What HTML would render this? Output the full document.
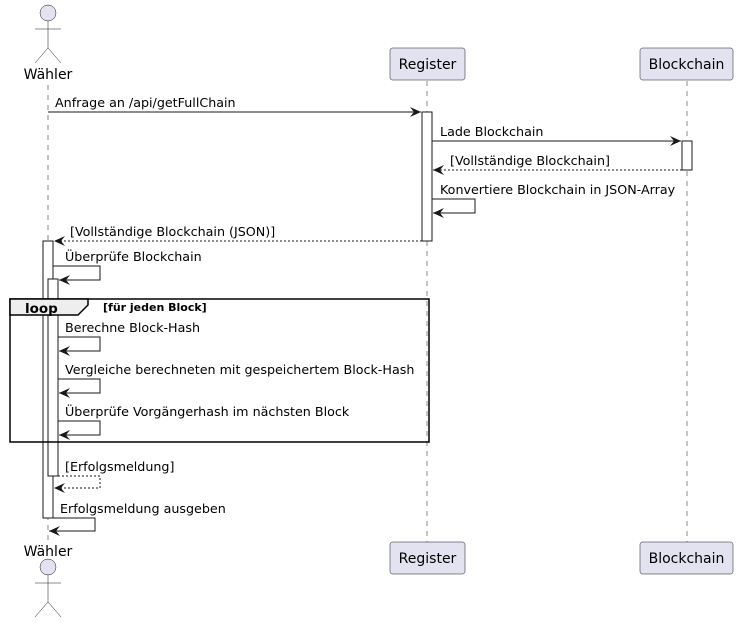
<!DOCTYPE html>
<html><head><meta charset="utf-8"><style>
html,body{margin:0;padding:0;background:#fff;}
svg{display:block;font-family:"DejaVu Sans","Liberation Sans",sans-serif;}
</style></head><body>
<svg width="738" height="623" viewBox="0 0 738 623" xmlns="http://www.w3.org/2000/svg">
<defs>
<marker id="ar" markerWidth="14" markerHeight="12" refX="11" refY="5" orient="auto" markerUnits="userSpaceOnUse">
<polygon points="0,0 11,5 0,10 4,5" fill="#181818"/>
</marker>
</defs>
<g stroke="#181818" stroke-width="0.5" stroke-dasharray="5,5">
<line x1="48" y1="85" x2="48" y2="540"/>
<line x1="427" y1="81" x2="427" y2="542"/>
<line x1="687" y1="81" x2="687" y2="542"/>
</g>
<g fill="#E2E2F0" stroke="#181818" stroke-width="0.5">
<rect x="390" y="48" width="75" height="32" rx="2.5"/>
<rect x="640" y="48" width="93" height="32" rx="2.5"/>
<rect x="390" y="542" width="75" height="32" rx="2.5"/>
<rect x="640" y="542" width="93" height="32" rx="2.5"/>
</g>
<g font-size="14" fill="#000" text-anchor="middle">
<text x="427.5" y="69">Register</text>
<text x="686.5" y="69">Blockchain</text>
<text x="427.5" y="563">Register</text>
<text x="686.5" y="563">Blockchain</text>
<text x="48" y="79">Wähler</text>
<text x="48" y="556">Wähler</text>
</g>
<g stroke="#181818" stroke-width="0.5" fill="none">
<circle cx="48" cy="13" r="8" fill="#E2E2F0"/>
<line x1="48" y1="21" x2="48" y2="48"/><line x1="35" y1="29" x2="61" y2="29"/>
<line x1="48" y1="48" x2="35" y2="63"/><line x1="48" y1="48" x2="61" y2="63"/>
<circle cx="48" cy="567" r="8" fill="#E2E2F0"/>
<line x1="48" y1="575" x2="48" y2="602"/><line x1="35" y1="583" x2="61" y2="583"/>
<line x1="48" y1="602" x2="35" y2="617"/><line x1="48" y1="602" x2="61" y2="617"/>
</g>
<g fill="#fff" stroke="#181818" stroke-width="1">
<rect x="422" y="112" width="10" height="129"/>
<rect x="682" y="141" width="10" height="29"/>
<rect x="43" y="241" width="10" height="277"/>
<rect x="48" y="279" width="10" height="197"/>
</g>
<rect x="10" y="299" width="419" height="143" fill="none" stroke="#000" stroke-width="1.5"/>
<polygon points="10,299 88,299 88,305 78,315 10,315" fill="#EEEEEE" stroke="#000" stroke-width="1.5"/>
<text x="25" y="313" font-size="13.5" font-weight="bold">loop</text>
<text x="103" y="311" font-size="11" font-weight="bold">[für jeden Block]</text>
<g stroke="#181818" stroke-width="1" fill="none" marker-end="url(#ar)">
<line x1="48" y1="112" x2="421" y2="112"/>
<line x1="432" y1="141" x2="681" y2="141"/>
<line x1="682" y1="170" x2="433" y2="170" stroke-dasharray="2,2"/>
<polyline points="432,199 475,199 475,213 433,213"/>
<line x1="422" y1="241" x2="54" y2="241" stroke-dasharray="2,2"/>
<polyline points="53,266 100,266 100,280 59,280"/>
<polyline points="58,337 100,337 100,351 59,351"/>
<polyline points="58,379 100,379 100,393 59,393"/>
<polyline points="58,421 100,421 100,435 59,435"/>
<polyline points="58,476 100,476 100,488 54,488" stroke-dasharray="2,2"/>
<polyline points="53,518 95,518 95,531 49,531"/>
</g>
<g font-size="12.7" fill="#000">
<text x="55" y="107">Anfrage an /api/getFullChain</text>
<text x="440" y="136">Lade Blockchain</text>
<text x="450" y="165">[Vollständige Blockchain]</text>
<text x="440" y="194">Konvertiere Blockchain in JSON-Array</text>
<text x="70" y="236">[Vollständige Blockchain (JSON)]</text>
<text x="65" y="261">Überprüfe Blockchain</text>
<text x="65" y="332">Berechne Block-Hash</text>
<text x="65" y="374">Vergleiche berechneten mit gespeichertem Block-Hash</text>
<text x="65" y="416">Überprüfe Vorgängerhash im nächsten Block</text>
<text x="65" y="471">[Erfolgsmeldung]</text>
<text x="60" y="513">Erfolgsmeldung ausgeben</text>
</g>
</svg>
</body></html>
